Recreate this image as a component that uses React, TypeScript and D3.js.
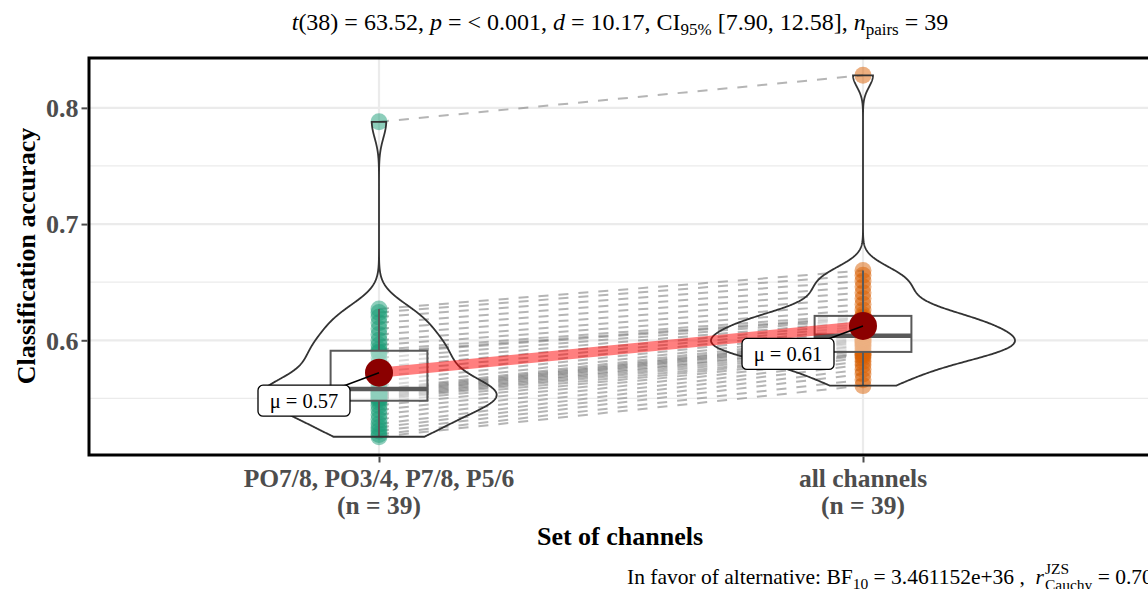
import React, { useEffect, useRef } from "react";
import * as d3 from "d3";

// paired classification accuracies (same subject order in both arrays)
const groups = ["PO7/8, PO3/4, P7/8, P5/6", "all channels"];
const groupN = ["(n = 39)", "(n = 39)"];
const subsetAcc = [
  0.517, 0.519, 0.522, 0.525, 0.528, 0.532, 0.536, 0.54, 0.544, 0.547,
  0.549, 0.55, 0.551, 0.552, 0.553, 0.554, 0.555, 0.556, 0.557, 0.558,
  0.561, 0.565, 0.569, 0.573, 0.577, 0.581, 0.585, 0.589, 0.59, 0.592,
  0.596, 0.6, 0.605, 0.61, 0.615, 0.62, 0.624, 0.627, 0.788,
];
const allAcc = [
  0.561, 0.566, 0.571, 0.575, 0.579, 0.582, 0.585, 0.587, 0.588, 0.589,
  0.591, 0.593, 0.595, 0.596, 0.598, 0.599, 0.6, 0.601, 0.602, 0.604,
  0.606, 0.608, 0.61, 0.612, 0.614, 0.616, 0.618, 0.619, 0.62, 0.622,
  0.626, 0.631, 0.636, 0.641, 0.646, 0.651, 0.656, 0.66, 0.828,
];
const yTicks = [0.6, 0.7, 0.8];
const yMinor = [0.55, 0.65, 0.75];
const colors = ["#1B9E77", "#D95F02"];

const W = 1148;
const H = 589;

function kde(values) {
  const s = [...values].sort((a, b) => a - b);
  const n = s.length;
  const sd = d3.deviation(s);
  const iqr = d3.quantileSorted(s, 0.75) - d3.quantileSorted(s, 0.25);
  const bw = 0.9 * Math.min(sd, iqr / 1.34) * Math.pow(n, -0.2);
  const lo = s[0];
  const hi = s[n - 1];
  const grid = d3.range(512).map((i) => lo + ((hi - lo) * i) / 511);
  return grid.map((g) => [
    g,
    d3.mean(s, (v) => Math.exp(-0.5 * ((g - v) / bw) ** 2)) / (bw * Math.sqrt(2 * Math.PI)),
  ]);
}

const App = () => {
  const svgRef = useRef();

  useEffect(() => {
    const svg = d3.select(svgRef.current);
    svg.selectAll("*").remove();
    const serif = "'Liberation Serif', 'Times New Roman', serif";
    svg.style("font-family", serif);

    const panel = { left: 89, top: 58, bottom: 455 };
    const x = d3.scaleLinear().domain([0.4, 2.6]).range([88.6, 1153.4]);
    const y = d3.scaleLinear().domain([0.5013, 0.8429]).range([panel.bottom, panel.top]);
    const series = [subsetAcc, allAcc];

    // grid
    const grid = svg.append("g").attr("stroke", "#EBEBEB");
    grid.selectAll(".minor").data(yMinor).enter().append("line")
      .attr("x1", panel.left).attr("x2", W).attr("y1", (d) => y(d)).attr("y2", (d) => y(d))
      .attr("stroke-width", 1.2);
    grid.selectAll(".major").data(yTicks).enter().append("line")
      .attr("x1", panel.left).attr("x2", W).attr("y1", (d) => y(d)).attr("y2", (d) => y(d))
      .attr("stroke-width", 2.2);
    grid.selectAll(".vmajor").data([1, 2]).enter().append("line")
      .attr("x1", (d) => x(d)).attr("x2", (d) => x(d)).attr("y1", panel.top).attr("y2", panel.bottom)
      .attr("stroke-width", 2.2);

    // dashed paired lines
    svg.append("g").selectAll("line").data(subsetAcc).enter().append("line")
      .attr("x1", x(1)).attr("x2", x(2))
      .attr("y1", (d) => y(d)).attr("y2", (d, i) => y(allAcc[i]))
      .attr("stroke", "#6B6B6B").attr("stroke-opacity", 0.5)
      .attr("stroke-width", 2).attr("stroke-dasharray", "10,10");

    // points
    series.forEach((vals, gi) => {
      svg.append("g").selectAll("circle").data(vals).enter().append("circle")
        .attr("cx", x(gi + 1)).attr("cy", (d) => y(d)).attr("r", 8.5)
        .attr("fill", colors[gi]).attr("fill-opacity", 0.5);
    });

    // boxplots
    series.forEach((vals, gi) => {
      const s = [...vals].sort((a, b) => a - b);
      const q1 = d3.quantileSorted(s, 0.25);
      const med = d3.quantileSorted(s, 0.5);
      const q3 = d3.quantileSorted(s, 0.75);
      const iqr = q3 - q1;
      const wLo = d3.min(s.filter((v) => v >= q1 - 1.5 * iqr));
      const wHi = d3.max(s.filter((v) => v <= q3 + 1.5 * iqr));
      const cx = x(gi + 1);
      const hw = x(1.1) - x(1);
      const g = svg.append("g").attr("stroke", "#595959").attr("stroke-width", 2);
      g.append("line").attr("x1", cx).attr("x2", cx).attr("y1", y(q3)).attr("y2", y(wHi));
      g.append("line").attr("x1", cx).attr("x2", cx).attr("y1", y(q1)).attr("y2", y(wLo));
      g.append("rect").attr("x", cx - hw).attr("width", 2 * hw)
        .attr("y", y(q3)).attr("height", y(q1) - y(q3))
        .attr("fill", "white").attr("fill-opacity", 0.5);
      g.append("line").attr("x1", cx - hw).attr("x2", cx + hw).attr("y1", y(med)).attr("y2", y(med))
        .attr("stroke-width", 4.5);
    });

    // violins (area scaled)
    const dens = series.map(kde);
    const maxD = d3.max(dens, (d) => d3.max(d, (p) => p[1]));
    const halfMax = 152;
    dens.forEach((dd, gi) => {
      const cx = x(gi + 1);
      const area = d3.area()
        .y((p) => y(p[0]))
        .x0((p) => cx - (p[1] / maxD) * halfMax)
        .x1((p) => cx + (p[1] / maxD) * halfMax);
      svg.append("path").attr("d", area(dd) + "Z")
        .attr("fill", "none").attr("stroke", "#333333").attr("stroke-width", 1.8);
    });

    // means
    const means = series.map((v) => d3.mean(v));
    svg.append("line")
      .attr("x1", x(1)).attr("x2", x(2)).attr("y1", y(means[0])).attr("y2", y(means[1]))
      .attr("stroke", "red").attr("stroke-opacity", 0.5).attr("stroke-width", 10);
    svg.append("g").selectAll("circle").data(means).enter().append("circle")
      .attr("cx", (d, i) => x(i + 1)).attr("cy", (d) => y(d)).attr("r", 14)
      .attr("fill", "#8B0000");

    means.forEach((m, gi) => {
      const mx = x(gi + 1);
      const my = y(m);
      const lx = mx - 75;
      const ly = my + 28;
      svg.append("line").attr("x1", mx).attr("y1", my).attr("x2", lx).attr("y2", ly)
        .attr("stroke", "black").attr("stroke-width", 1.6);
      svg.append("rect").attr("x", lx - 46).attr("y", ly - 15.5).attr("width", 92).attr("height", 31)
        .attr("rx", 5).attr("fill", "white").attr("stroke", "black").attr("stroke-width", 1.3);
      svg.append("text").attr("x", lx).attr("y", ly + 7).attr("text-anchor", "middle")
        .attr("font-size", 20.5).text(`\u03bc = ${d3.format(".2f")(m)}`);
    });

    // panel border
    svg.append("rect").attr("x", panel.left).attr("y", panel.top)
      .attr("width", W + 10 - panel.left).attr("height", panel.bottom - panel.top)
      .attr("fill", "none").attr("stroke", "black").attr("stroke-width", 3);

    // y axis
    const yAxis = svg.append("g").attr("transform", `translate(${panel.left - 1.5},0)`)
      .call(d3.axisLeft(y).tickValues(yTicks).tickFormat(d3.format(".1f")).tickSize(6).tickPadding(3));
    yAxis.select(".domain").remove();
    yAxis.selectAll("line").attr("stroke", "#4D4D4D").attr("stroke-width", 2);
    yAxis.selectAll("text").attr("font-family", serif).attr("font-size", 26)
      .attr("font-weight", "bold").attr("fill", "#4D4D4D").attr("dy", "0.34em");

    // x axis
    const xAxis = svg.append("g").attr("transform", `translate(0,${panel.bottom + 1.5})`)
      .call(d3.axisBottom(x).tickValues([1, 2]).tickFormat(() => "").tickSize(6));
    xAxis.select(".domain").remove();
    xAxis.selectAll("line").attr("stroke", "#4D4D4D").attr("stroke-width", 2);
    [1, 2].forEach((v, i) => {
      const t = svg.append("text").attr("x", x(v)).attr("y", 487).attr("text-anchor", "middle")
        .attr("font-size", 25.5).attr("font-weight", "bold").attr("fill", "#4D4D4D");
      t.append("tspan").attr("x", x(v)).text(groups[i]);
      t.append("tspan").attr("x", x(v)).attr("dy", 27).text(groupN[i]);
    });

    svg.append("text").attr("x", 620).attr("y", 545).attr("text-anchor", "middle")
      .attr("font-size", 26).attr("font-weight", "bold").text("Set of channels");
    svg.append("text").attr("transform", `translate(35,256) rotate(-90)`).attr("text-anchor", "middle")
      .attr("font-size", 26).attr("font-weight", "bold").text("Classification accuracy");

    // subtitle
    const sub = svg.append("text").attr("x", 620).attr("y", 30).attr("text-anchor", "middle")
      .attr("font-size", 24).style("white-space", "pre");
    sub.append("tspan").attr("font-style", "italic").text("t");
    sub.append("tspan").text("(38) = 63.52, ");
    sub.append("tspan").attr("font-style", "italic").text("p");
    sub.append("tspan").text(" = < 0.001, ");
    sub.append("tspan").attr("font-style", "italic").text("d");
    sub.append("tspan").text(" = 10.17, CI");
    sub.append("tspan").attr("font-size", 17).attr("dy", 5).text("95%");
    sub.append("tspan").attr("dy", -5).text(" [7.90, 12.58], ");
    sub.append("tspan").attr("font-style", "italic").text("n");
    sub.append("tspan").attr("font-size", 17).attr("dy", 5).text("pairs");
    sub.append("tspan").attr("dy", -5).text(" = 39");

    // caption
    const cap = svg.append("g");
    const put = (cx, cy, str, size = 21.5, style = "normal") => {
      const t = cap.append("text").attr("x", cx).attr("y", cy).attr("font-size", size)
        .attr("font-style", style).style("white-space", "pre").text(str);
      return cx + t.node().getComputedTextLength();
    };
    let cx = 627;
    const by = 584;
    cx = put(cx, by, "In favor of alternative: BF");
    cx = put(cx, by + 5, "10", 15.5);
    cx = put(cx, by, " = 3.461152e+36 ,  ");
    cx = put(cx, by, "r", 21.5, "italic");
    put(cx + 1, by - 10, "JZS", 15.5);
    const cx2 = put(cx + 1, by + 6, "Cauchy", 15.5);
    put(cx2, by, " = 0.707");
  }, []);

  return (
    <svg
      ref={svgRef}
      width={W}
      height={H}
      style={{ position: "absolute", left: 0, top: 0, background: "white" }}
    ></svg>
  );
};

export default App;
